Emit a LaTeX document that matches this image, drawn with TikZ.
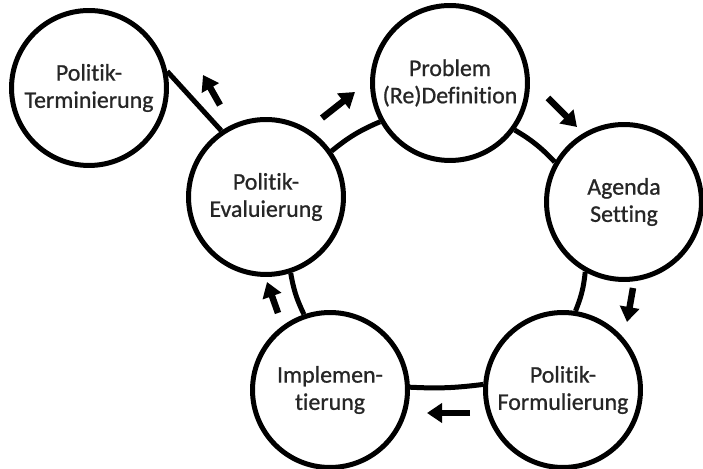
\documentclass[tikz,border=0pt]{standalone}
\usepackage{fontspec}
\setmainfont{Carlito}[Ligatures=NoCommon,BoldFont=Carlito,BoldFeatures={FakeBold=0.8}]
\usetikzlibrary{arrows.meta}
\begin{document}
\begin{tikzpicture}[x=0.02cm,y=0.02cm,>={Triangle[width=0.38cm,length=0.3cm]},line join=round,
	phase/.style={circle,draw,line width=0.1cm,fill=white,minimum size=3.1cm,inner sep=0pt,align=center,text=black!85,font=\fontsize{13.6}{15.5}\selectfont\bfseries},
	link/.style={line width=0.1cm}]
	\useasboundingbox (0,0) rectangle (703,469);
	\node[phase] (term) at (89,381) {Politik-\\Terminierung};
	\node[phase] (prob) at (450,386) {Problem\\(Re)Definition};
	\node[phase] (agenda) at (624,267) {Agenda\\Setting};
	\node[phase] (form) at (563,79) {Politik-\\Formulierung};
	\node[phase] (impl) at (330,79) {Implemen-\\tierung};
	\node[phase] (eval) at (266,272) {Politik-\\Evaluierung};
	\draw[link] (eval.35) to[bend left=8] (prob.209);
	\draw[link] (prob.-36) to[bend left=8] (agenda.150);
	\draw[link] (agenda.241) to[bend left=8] (form.81);
	\draw[link] (form.176) to[bend left=5] (impl.2);
	\draw[link] (impl.109) to[bend left=8] (eval.288);
	\draw[link] (eval.124)--(term.12);
	\foreach \xa/\ya/\xb/\yb in {220/364/203/394,322/351/355/377,548/371/577/342,633/181/627/147,470/56/427/56,278/156/267/187}
		\draw[->,line width=0.13cm] (\xa,\ya)--(\xb,\yb);
\end{tikzpicture}
\end{document}
